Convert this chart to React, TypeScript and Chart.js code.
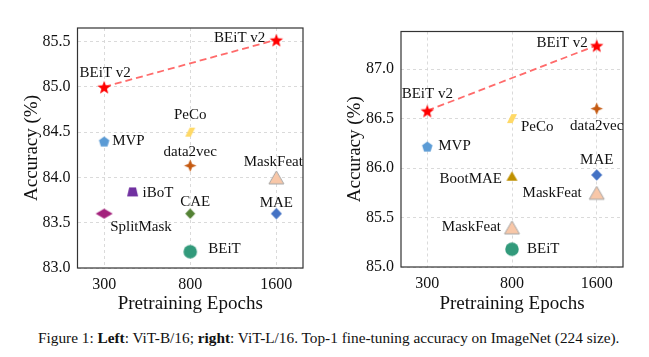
import React, { useEffect, useRef } from 'react';
import { Chart, registerables } from 'chart.js';

Chart.register(...registerables);

// ---------- data ----------
const epochs = ['300', '800', '1600'];

// Left: ViT-B/16
const leftMethods = ['MVP', 'PeCo', 'data2vec', 'MaskFeat', 'iBoT', 'CAE', 'SplitMask', 'MAE', 'BEiT'];
const leftEpochPos = [0, 1, 1, 2, 0.33, 1, 0, 2, 1];
const leftAcc = [84.4, 84.5, 84.13, 84.0, 83.84, 83.6, 83.6, 83.6, 83.18];
const leftBeitV2Pos = [0, 2];
const leftBeitV2Acc = [85.0, 85.52];

// Right: ViT-L/16
const rightMethods = ['MVP', 'PeCo', 'data2vec', 'BootMAE', 'MAE', 'MaskFeat', 'MaskFeat', 'BEiT'];
const rightEpochPos = [0, 1, 2, 1, 2, 2, 1, 1];
const rightAcc = [86.22, 86.5, 86.6, 85.92, 85.93, 85.75, 85.4, 85.18];
const rightBeitV2Pos = [0, 2];
const rightBeitV2Acc = [86.58, 87.24];

const leftYTicks = { min: 83.0, max: 85.65, step: 0.5 };
const rightYTicks = { min: 85.0, max: 87.38, step: 0.5 };

const xTitle = 'Pretraining Epochs';
const yTitle = 'Accuracy (%)';

// ---------- label placement (style) ----------
type Place = [string, number, number];
const leftPlace: Place[] = [
  ['r', 8, 0], ['c', 0, -17], ['c', 0, -14], ['c', -3, -15], ['r', 10, 1],
  ['c', 5, -12], ['r', 6, 13], ['c', 0, -11], ['r', 18, -3],
];
const leftV2Place: Place[] = [['c', 1, -14], ['l', -11, -2]];
const rightPlace: Place[] = [
  ['r', 11, 0], ['r', 9, 8], ['c', 0, 17], ['l', -10, 3], ['c', 0, -15],
  ['l', -15, 0], ['l', -11, 0], ['r', 15, 0],
];
const rightV2Place: Place[] = [['c', 0, -17], ['l', -9, -2]];

const FONT = "'Liberation Serif', 'Times New Roman', serif";
Chart.defaults.font.family = FONT;
Chart.defaults.color = '#111';

// ---------- markers ----------
function makeMarker(shape: string, w: number, h: number, fill: string, stroke?: string) {
  const pad = 2;
  const c = document.createElement('canvas');
  c.width = Math.ceil(w + pad * 2);
  c.height = Math.ceil(h + pad * 2);
  const ctx = c.getContext('2d')!;
  const cx = c.width / 2;
  const cy = c.height / 2;
  ctx.beginPath();
  if (shape === 'circle') {
    ctx.arc(cx, cy, w / 2, 0, Math.PI * 2);
  } else if (shape === 'star5') {
    const R = w / 2, r = R * 0.42;
    for (let i = 0; i < 10; i++) {
      const a = -Math.PI / 2 + (i * Math.PI) / 5;
      const rr = i % 2 === 0 ? R : r;
      const x = cx + rr * Math.cos(a);
      const y = cy + 1 + rr * Math.sin(a);
      i === 0 ? ctx.moveTo(x, y) : ctx.lineTo(x, y);
    }
  } else if (shape === 'star4') {
    const R = w / 2, r = R * 0.42;
    for (let i = 0; i < 8; i++) {
      const a = -Math.PI / 2 + (i * Math.PI) / 4;
      const rr = i % 2 === 0 ? R : r;
      const x = cx + rr * Math.cos(a);
      const y = cy + rr * Math.sin(a);
      i === 0 ? ctx.moveTo(x, y) : ctx.lineTo(x, y);
    }
  } else if (shape === 'pentagon') {
    const R = w / 2;
    for (let i = 0; i < 5; i++) {
      const a = -Math.PI / 2 + (i * 2 * Math.PI) / 5;
      const x = cx + R * Math.cos(a);
      const y = cy + 0.8 + R * Math.sin(a);
      i === 0 ? ctx.moveTo(x, y) : ctx.lineTo(x, y);
    }
  } else if (shape === 'diamond') {
    ctx.moveTo(cx, cy - h / 2);
    ctx.lineTo(cx + w / 2, cy);
    ctx.lineTo(cx, cy + h / 2);
    ctx.lineTo(cx - w / 2, cy);
  } else if (shape === 'triangle') {
    ctx.moveTo(cx, cy - h / 2);
    ctx.lineTo(cx + w / 2, cy + h / 2);
    ctx.lineTo(cx - w / 2, cy + h / 2);
  } else if (shape === 'trapezoid') {
    const tw = w * 0.62;
    ctx.moveTo(cx - tw / 2, cy - h / 2);
    ctx.lineTo(cx + tw / 2, cy - h / 2);
    ctx.lineTo(cx + w / 2, cy + h / 2);
    ctx.lineTo(cx - w / 2, cy + h / 2);
  } else if (shape === 'parallelogram') {
    const s = w * 0.45;
    ctx.moveTo(cx - w / 2 + s, cy - h / 2);
    ctx.lineTo(cx + w / 2, cy - h / 2);
    ctx.lineTo(cx + w / 2 - s, cy + h / 2);
    ctx.lineTo(cx - w / 2, cy + h / 2);
  }
  ctx.closePath();
  ctx.fillStyle = fill;
  ctx.fill();
  if (stroke) {
    ctx.lineWidth = 1;
    ctx.strokeStyle = stroke;
    ctx.stroke();
  }
  return c;
}

function markerFor(name: string) {
  switch (name) {
    case 'BEiT v2': return makeMarker('star5', 14, 14, '#ff0000');
    case 'MVP': return makeMarker('pentagon', 11, 11, '#5b9bd5');
    case 'PeCo': return makeMarker('parallelogram', 10, 9, '#ffd966');
    case 'data2vec': return makeMarker('star4', 12.5, 12.5, '#c55a11');
    case 'MaskFeat': return makeMarker('triangle', 15, 13, '#f8c7a8', '#a6a6a6');
    case 'iBoT': return makeMarker('trapezoid', 11, 9, '#7030a0');
    case 'CAE': return makeMarker('diamond', 10, 10.5, '#548235');
    case 'SplitMask': return makeMarker('diamond', 17, 10, '#a3217c');
    case 'MAE': return makeMarker('diamond', 11, 11.5, '#4472c4');
    case 'BEiT': return makeMarker('circle', 13.5, 13.5, '#329a7b');
    case 'BootMAE': return makeMarker('triangle', 11, 9.5, '#bf9000');
    default: return makeMarker('circle', 8, 8, '#888');
  }
}

// ---------- plugins ----------
const framePlugin = {
  id: 'frame',
  beforeDatasetsDraw(chart: any) {
    const { ctx, chartArea: a } = chart;
    ctx.save();
    ctx.strokeStyle = '#333333';
    ctx.lineWidth = 1.2;
    ctx.strokeRect(a.left, a.top, a.right - a.left, a.bottom - a.top);
    ctx.restore();
  },
};

const labelPlugin = {
  id: 'ptLabels',
  afterDatasetsDraw(chart: any) {
    const { ctx } = chart;
    ctx.save();
    ctx.font = `15px ${FONT}`;
    ctx.fillStyle = '#111111';
    ctx.textBaseline = 'middle';
    chart.data.datasets.forEach((ds: any, di: number) => {
      const meta = chart.getDatasetMeta(di);
      meta.data.forEach((pt: any, i: number) => {
        const p: Place = ds.places[i];
        const [mode, dx, dy] = p;
        ctx.textAlign = mode === 'c' ? 'center' : mode === 'l' ? 'right' : 'left';
        ctx.fillText(ds.label, pt.x + dx, pt.y + dy);
      });
    });
    ctx.restore();
  },
};

function makeTitlePlugin(yTitleX: number, xTitleY: number) {
  return {
    id: 'axisTitles',
    afterDraw(chart: any) {
      const { ctx, chartArea: a } = chart;
      ctx.save();
      ctx.font = `19px ${FONT}`;
      ctx.fillStyle = '#111111';
      ctx.textBaseline = 'middle';
      ctx.textAlign = 'center';
      ctx.fillText(xTitle, (a.left + a.right) / 2, xTitleY);
      ctx.translate(yTitleX, (a.top + a.bottom) / 2);
      ctx.rotate(-Math.PI / 2);
      ctx.fillText(yTitle, 0, 0);
      ctx.restore();
    },
  };
}

interface PanelProps {
  methods: string[];
  pos: number[];
  acc: number[];
  v2Pos: number[];
  v2Acc: number[];
  places: Place[];
  v2Places: Place[];
  yr: { min: number; max: number; step: number };
  width: number;
  height: number;
  pad: { top: number; right: number };
  yAxisW: number;
  xAxisH: number;
  yTitleX: number;
  xTitleY: number;
}

function Panel(props: PanelProps) {
  const ref = useRef<HTMLCanvasElement>(null);
  useEffect(() => {
    const datasets: any[] = [];
    datasets.push({
      label: 'BEiT v2',
      data: props.v2Pos.map((x, i) => ({ x, y: props.v2Acc[i] })),
      showLine: true,
      borderColor: '#ff6b6b',
      borderWidth: 1.8,
      borderDash: [7, 4],
      pointStyle: markerFor('BEiT v2'),
      pointRadius: 5,
      places: props.v2Places,
    });
    props.methods.forEach((m, i) => {
      datasets.push({
        label: m,
        data: [{ x: props.pos[i], y: props.acc[i] }],
        pointStyle: markerFor(m),
        pointRadius: 5,
        places: [props.places[i]],
      });
    });
    const yAxisW = props.yAxisW;
    const xAxisH = props.xAxisH;
    const tickFont = { family: FONT, size: 16 };
    const chart = new Chart(ref.current!, {
      type: 'scatter',
      data: { datasets },
      options: {
        responsive: false,
        animation: false,
        events: [],
        layout: { padding: { left: 0, top: props.pad.top, right: props.pad.right, bottom: 0 } },
        plugins: { legend: { display: false }, tooltip: { enabled: false } },
        scales: {
          x: {
            type: 'linear',
            min: -0.31,
            max: 2.31,
            afterBuildTicks: (s: any) => { s.ticks = epochs.map((_, i) => ({ value: i })); },
            afterFit: (s: any) => { s.height = xAxisH; },
            ticks: {
              callback: (v: any) => epochs[Math.round(v)],
              font: tickFont,
              color: '#111',
              padding: 7,
              maxRotation: 0,
            },
            grid: { color: '#d6d6d6', lineWidth: 0.9, drawTicks: false },
            border: { display: false, dash: [3, 3] },
          },
          y: {
            type: 'linear',
            min: props.yr.min,
            max: props.yr.max,
            afterFit: (s: any) => { s.width = yAxisW; },
            ticks: {
              stepSize: props.yr.step,
              includeBounds: false,
              callback: (v: any) => Number(v).toFixed(1),
              font: tickFont,
              color: '#111',
              padding: 7,
            },
            grid: { color: '#d6d6d6', lineWidth: 0.9, drawTicks: false },
            border: { display: false, dash: [3, 3] },
          },
        },
      } as any,
      plugins: [framePlugin, labelPlugin, makeTitlePlugin(props.yTitleX, props.xTitleY)],
    });
    return () => chart.destroy();
  }, []);
  return <canvas ref={ref} width={props.width} height={props.height} style={{ display: 'block' }} />;
}

export default function App() {
  return (
    <div style={{ position: 'absolute', left: 0, top: 0, width: 649, height: 357, background: '#fff', overflow: 'hidden' }}>
      <div style={{ position: 'absolute', left: 0, top: 0 }}>
        <Panel
          methods={leftMethods} pos={leftEpochPos} acc={leftAcc}
          v2Pos={leftBeitV2Pos} v2Acc={leftBeitV2Acc}
          places={leftPlace} v2Places={leftV2Place}
          yr={leftYTicks} width={320} height={322}
          pad={{ top: 28, right: 17 }} yAxisW={77.5} xAxisH={54}
          yTitleX={32.5} xTitleY={304}
        />
      </div>
      <div style={{ position: 'absolute', left: 320, top: 0 }}>
        <Panel
          methods={rightMethods} pos={rightEpochPos} acc={rightAcc}
          v2Pos={rightBeitV2Pos} v2Acc={rightBeitV2Acc}
          places={rightPlace} v2Places={rightV2Place}
          yr={rightYTicks} width={329} height={322}
          pad={{ top: 31.5, right: 26 }} yAxisW={81} xAxisH={55}
          yTitleX={35.5} xTitleY={304}
        />
      </div>
      <div
        style={{
          position: 'absolute', left: 38, top: 329, whiteSpace: 'nowrap',
          fontFamily: FONT, fontSize: 15.3, color: '#111', lineHeight: '18px',
        }}
      >
        Figure 1: <b>Left</b>: ViT-B/16; <b>right</b>: ViT-L/16. Top-1 fine-tuning accuracy on ImageNet (224 size).
      </div>
    </div>
  );
}
